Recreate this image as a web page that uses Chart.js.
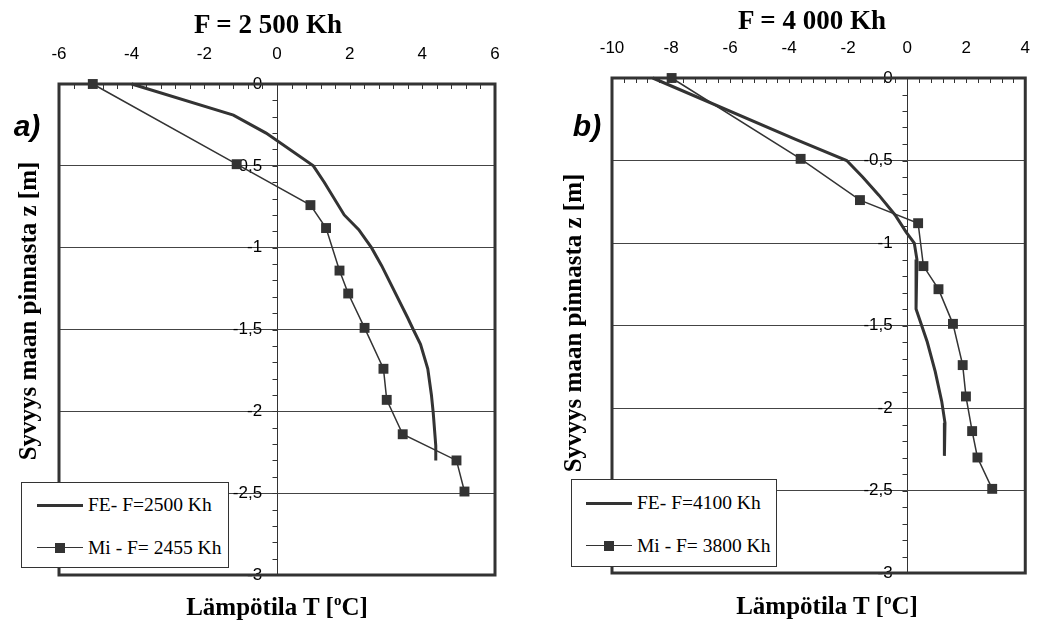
<!DOCTYPE html>
<html>
<head>
<meta charset="utf-8">
<script src="https://cdn.jsdelivr.net/npm/chart.js@4.4.0/dist/chart.umd.min.js"></script>
<style>
    body { margin: 0; background: #fff; }
    #page { position: relative; width: 1049px; height: 623px; overflow: hidden; background: #fff; }
    canvas { position: absolute; top: 0; }
    .txt { position: absolute; white-space: nowrap; color: #000; transform: translate(-50%, -50%); font-family: "Liberation Serif", serif; font-weight: bold; }
    .title { font-size: 27px; }
    .xtitle { font-size: 25px; }
    .ytitle { font-size: 25px; transform: translate(-50%, -50%) rotate(-90deg); }
    .tag { font-family: "Liberation Sans", Arial, sans-serif; font-style: italic; font-size: 30px; }
    .legend { position: absolute; background: #fff; border: 1px solid #333; box-sizing: border-box; }
    .legend .row { position: absolute; left: 0; right: 0; height: 0; }
    .legend .ln { position: absolute; height: 0; }
    .legend .mk { position: absolute; width: 10px; height: 10px; background: #333; transform: translate(-50%, -50%); }
    .legend .lbl { position: absolute; font-family: "Liberation Serif", serif; font-size: 19.5px; transform: translateY(-50%); white-space: nowrap; }
</style>
</head>
<body>
<div id="page">
    <canvas id="chartA" width="520" height="623" style="left:0"></canvas>
    <canvas id="chartB" width="529" height="623" style="left:520px"></canvas>

    <div class="txt title" style="left:268px; top:24px">F = 2 500 Kh</div>
    <div class="txt title" style="left:812px; top:20px">F = 4 000 Kh</div>

    <div class="txt tag" style="left:27px; top:126px">a)</div>
    <div class="txt tag" style="left:587px; top:126px">b)</div>

    <div class="txt ytitle" style="left:28px; top:311px">Syvyys maan pinnasta z [m]</div>
    <div class="txt ytitle" style="left:573px; top:323px">Syvyys maan pinnasta z [m]</div>

    <div class="txt xtitle" style="left:277px; top:606px">Lämpötila T [<span style="font-size:15px; vertical-align:10px">o</span>C]</div>
    <div class="txt xtitle" style="left:827px; top:605px">Lämpötila T [<span style="font-size:15px; vertical-align:10px">o</span>C]</div>

    <div class="legend" id="legendA" style="left:21px; top:482px; width:208px; height:86px"></div>
    <div class="legend" id="legendB" style="left:571px; top:479px; width:206px; height:88px"></div>
</div>

<script>
// Depth axis (shared)
const depthMin = -3;
const depthMax = 0;
const depthStep = 0.5;

// Panel a) F = 2 500 Kh
const tempRangeA = [-6, 6];
const feLabelA = 'FE- F=2500 Kh';
const feTempA = [-4.0, -1.2, -0.3, 1.0, 1.3, 1.85, 2.25, 2.6, 2.88, 3.6, 3.75, 3.95, 4.15, 4.25, 4.3, 4.37, 4.37];
const feDepthA = [0, -0.19, -0.3, -0.5, -0.6, -0.8, -0.89, -1.0, -1.11, -1.43, -1.5, -1.59, -1.74, -1.9, -2.01, -2.21, -2.3];
const miLabelA = 'Mi - F= 2455 Kh';
const miTempA = [-5.07, -1.11, 0.92, 1.35, 1.72, 1.96, 2.41, 2.93, 3.02, 3.46, 4.94, 5.16];
const miDepthA = [0, -0.49, -0.74, -0.88, -1.14, -1.28, -1.49, -1.74, -1.93, -2.14, -2.30, -2.49];

// Panel b) F = 4 000 Kh
const tempRangeB = [-10, 4];
const feLabelB = 'FE- F=4100 Kh';
const feTempB = [-8.62, -3.8, -2.05, -1.51, -0.96, -0.41, -0.03, 0.24, 0.33, 0.3, 0.3, 0.68, 0.95, 1.17, 1.28, 1.26];
const feDepthB = [0, -0.37, -0.5, -0.6, -0.71, -0.83, -0.935, -1.0, -1.1, -1.2, -1.4, -1.6, -1.78, -1.96, -2.09, -2.29];
const miLabelB = 'Mi - F= 3800 Kh';
const miTempB = [-7.98, -3.61, -1.6, 0.37, 0.55, 1.06, 1.55, 1.88, 1.99, 2.2, 2.38, 2.88];
const miDepthB = [0, -0.49, -0.74, -0.88, -1.14, -1.28, -1.49, -1.74, -1.93, -2.14, -2.30, -2.49];

const lineColor = '#333333';
const tickFont = { family: '"Liberation Sans", Arial, sans-serif', size: 17 };

const toPoints = (xs, ys) => xs.map((x, i) => ({ x: x, y: ys[i] }));

// Frame around the plot + small minor ticks (top axis every 0.4, depth axis every 0.1)
const frameAndTicks = {
    id: 'frameAndTicks',
    beforeDatasetsDraw(chart) {
        const { ctx, chartArea: a, scales: { x, y } } = chart;
        ctx.save();
        ctx.strokeStyle = lineColor;
        ctx.lineWidth = 1;
        ctx.beginPath();
        const xMin = x.min, xMax = x.max;
        for (let i = 0; xMin + i * 0.4 <= xMax + 1e-9; i++) {
            const px = Math.round(x.getPixelForValue(xMin + i * 0.4)) + 0.5;
            ctx.moveTo(px, a.top);
            ctx.lineTo(px, a.top + 5);
        }
        const zx = Math.round(x.getPixelForValue(0)) + 0.5;
        for (let i = 0; i <= 30; i++) {
            const py = Math.round(y.getPixelForValue(-i * 0.1)) + 0.5;
            ctx.moveTo(zx - 5, py);
            ctx.lineTo(zx, py);
        }
        ctx.stroke();

        ctx.lineWidth = 3;
        ctx.strokeRect(a.left, a.top, a.right - a.left, a.bottom - a.top);
        ctx.restore();
    }
};

function buildChart(id, cfg) {
    const ctx = document.getElementById(id).getContext('2d');
    return new Chart(ctx, {
        type: 'scatter',
        data: {
            datasets: [
                {
                    label: cfg.feLabel,
                    data: toPoints(cfg.feT, cfg.feZ),
                    showLine: true,
                    borderColor: lineColor,
                    borderWidth: 3,
                    pointRadius: 0,
                    tension: 0,
                    clip: false
                },
                {
                    label: cfg.miLabel,
                    data: toPoints(cfg.miT, cfg.miZ),
                    showLine: true,
                    borderColor: lineColor,
                    backgroundColor: lineColor,
                    borderWidth: 1.5,
                    pointStyle: 'rect',
                    pointRadius: 7,
                    pointBorderWidth: 0,
                    tension: 0,
                    clip: false
                }
            ]
        },
        options: {
            responsive: false,
            animation: false,
            layout: { padding: cfg.padding },
            scales: {
                x: {
                    type: 'linear',
                    position: 'top',
                    min: cfg.range[0],
                    max: cfg.range[1],
                    ticks: { stepSize: 2, color: '#000', font: tickFont, padding: 19 },
                    grid: {
                        drawTicks: false,
                        lineWidth: 1,
                        color: c => (c.tick && c.tick.value === 0 ? lineColor : 'rgba(0,0,0,0)')
                    },
                    border: { display: false },
                    afterFit: s => { s.height = 50; }
                },
                y: {
                    type: 'linear',
                    position: { x: cfg.labelAt },
                    min: depthMin,
                    max: depthMax,
                    ticks: {
                        stepSize: depthStep,
                        color: '#000',
                        font: tickFont,
                        padding: 0,
                        callback: v => String(v).replace('.', ',')
                    },
                    grid: { drawTicks: false, color: '#444444', lineWidth: 1 },
                    border: { display: false }
                }
            },
            plugins: {
                legend: { display: false },
                tooltip: { enabled: false }
            }
        },
        plugins: [frameAndTicks]
    });
}

function buildLegend(id, rows, sample, textLeft) {
    const box = document.getElementById(id);
    rows.forEach(r => {
        const row = document.createElement('div');
        row.className = 'row';
        row.style.top = r.y + 'px';
        const ln = document.createElement('div');
        ln.className = 'ln';
        ln.style.left = sample[0] + 'px';
        ln.style.width = (sample[1] - sample[0]) + 'px';
        ln.style.borderTop = r.w + 'px solid ' + lineColor;
        ln.style.top = (-r.w / 2) + 'px';
        row.appendChild(ln);
        if (r.marker) {
            const mk = document.createElement('div');
            mk.className = 'mk';
            mk.style.left = ((sample[0] + sample[1]) / 2) + 'px';
            row.appendChild(mk);
        }
        const lbl = document.createElement('div');
        lbl.className = 'lbl';
        lbl.style.left = textLeft + 'px';
        lbl.textContent = r.label;
        row.appendChild(lbl);
        box.appendChild(row);
    });
}

window.chartA = buildChart('chartA', {
    range: tempRangeA, labelAt: -0.41,
    feLabel: feLabelA, feT: feTempA, feZ: feDepthA,
    miLabel: miLabelA, miT: miTempA, miZ: miDepthA,
    padding: { left: 59, right: 25, top: 34, bottom: 48 }
});

window.chartB = buildChart('chartB', {
    range: tempRangeB, labelAt: -0.49,
    feLabel: feLabelB, feT: feTempB, feZ: feDepthB,
    miLabel: miLabelB, miT: miTempB, miZ: miDepthB,
    padding: { left: 92, right: 7, top: 28, bottom: 50 }
});

buildLegend('legendA', [
    { y: 22, w: 3, marker: false, label: feLabelA },
    { y: 65, w: 1.5, marker: true, label: miLabelA }
], [15, 61], 66);

buildLegend('legendB', [
    { y: 23, w: 3, marker: false, label: feLabelB },
    { y: 66, w: 1.5, marker: true, label: miLabelB }
], [14, 60], 65);
</script>
</body>
</html>
